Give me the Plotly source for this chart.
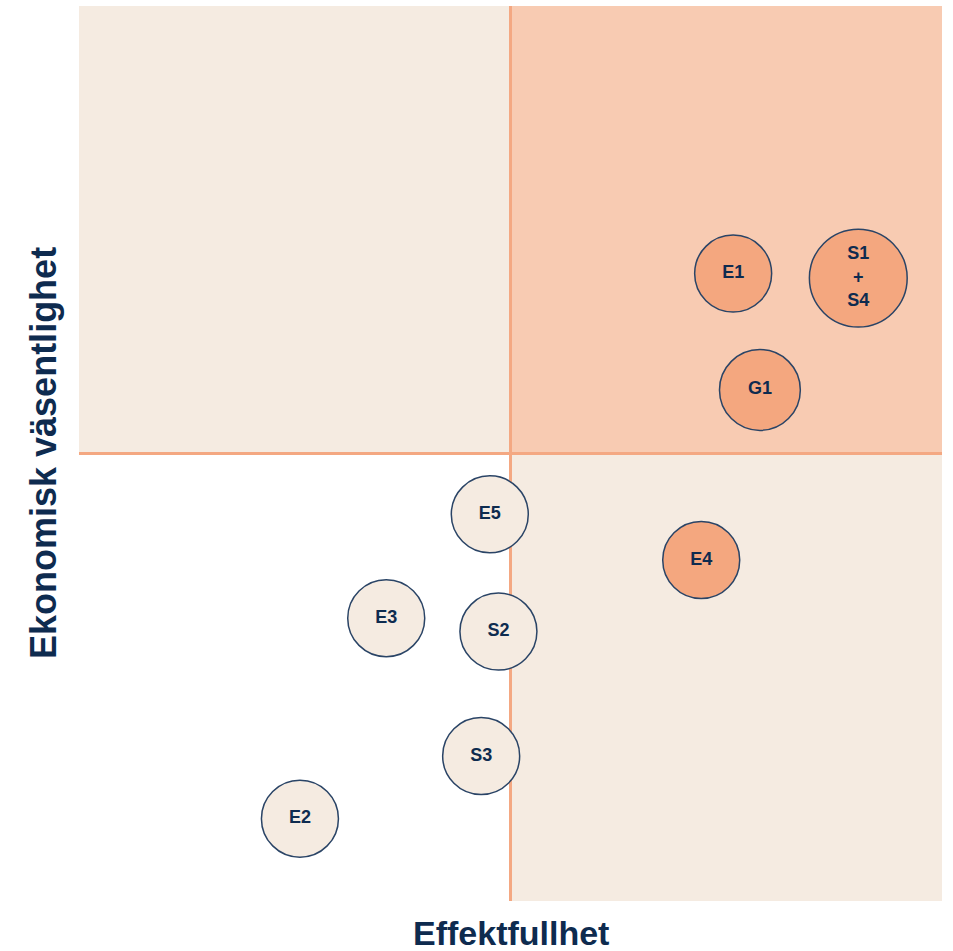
import plotly.graph_objects as go

# ---- data ----
labels = ["E1", "S1<br>+<br>S4", "G1", "E5", "E4", "E3", "S2", "S3", "E2"]
effekt = [7.58, 9.03, 7.89, 4.76, 7.21, 3.56, 4.86, 4.66, 2.56]
vasentlighet = [7.01, 6.96, 5.71, 4.32, 3.81, 3.16, 3.01, 1.62, 0.92]
weight = [1.0, 1.27, 1.05, 1.0, 1.0, 1.0, 1.0, 1.0, 1.0]
highlight = [True, True, True, False, True, False, False, False, False]

x_title = "Effektfullhet"
y_title = "Ekonomisk väsentlighet"

# ---- styles ----
NAVY = "#0E2B4F"
ORANGE = "#F4A77F"
BEIGE = "#F5EBE1"
PEACH = "#F8CBB2"
LINE = "#F4A882"
FONT = "Liberation Sans, Arial, sans-serif"
BASE_SIZE = 77

fig = go.Figure()

fig.add_trace(go.Scatter(
    x=effekt, y=vasentlighet, mode="markers+text",
    text=[f"<b>{t}</b>" for t in labels],
    textposition="middle center",
    textfont=dict(family=FONT, size=18, color=NAVY),
    marker=dict(size=[w * BASE_SIZE for w in weight],
                color=[ORANGE if h else BEIGE for h in highlight],
                line=dict(color="#2A4466", width=1.5), opacity=1),
    hoverinfo="skip", showlegend=False,
))

shapes = [
    dict(type="rect", xref="x", yref="y", x0=0, x1=5, y0=5, y1=10, fillcolor=BEIGE, line_width=0, layer="below"),
    dict(type="rect", xref="x", yref="y", x0=5, x1=10, y0=0, y1=5, fillcolor=BEIGE, line_width=0, layer="below"),
    dict(type="rect", xref="x", yref="y", x0=5, x1=10, y0=5, y1=10, fillcolor=PEACH, line_width=0, layer="below"),
    dict(type="line", xref="x", yref="y", x0=0, x1=10, y0=5, y1=5, line=dict(color=LINE, width=3), layer="below"),
    dict(type="line", xref="x", yref="y", x0=5, x1=5, y0=0, y1=10, line=dict(color=LINE, width=3), layer="below"),
]

fig.update_layout(
    width=953, height=951,
    margin=dict(l=79, r=11, t=6, b=50),
    paper_bgcolor="white", plot_bgcolor="white",
    shapes=shapes,
    xaxis=dict(range=[0, 10], showgrid=False, zeroline=False, showticklabels=False, showline=False, fixedrange=True),
    yaxis=dict(range=[0, 10], showgrid=False, zeroline=False, showticklabels=False, showline=False, fixedrange=True),
    annotations=[
        dict(text=f"<b>{x_title}</b>", xref="paper", yref="paper", x=0.5, y=0,
             xanchor="center", yanchor="top", yshift=-11, showarrow=False,
             font=dict(family=FONT, size=34, color=NAVY)),
        dict(text=f"<b>{y_title}</b>", xref="paper", yref="paper", x=0, y=0.5,
             xanchor="right", yanchor="middle", xshift=-13, textangle=-90, showarrow=False,
             font=dict(family=FONT, size=36, color=NAVY)),
    ],
)

fig.write_html("out.html", config={"displayModeBar": False},
               post_script="document.body.style.margin='0';document.body.style.overflow='hidden';")
